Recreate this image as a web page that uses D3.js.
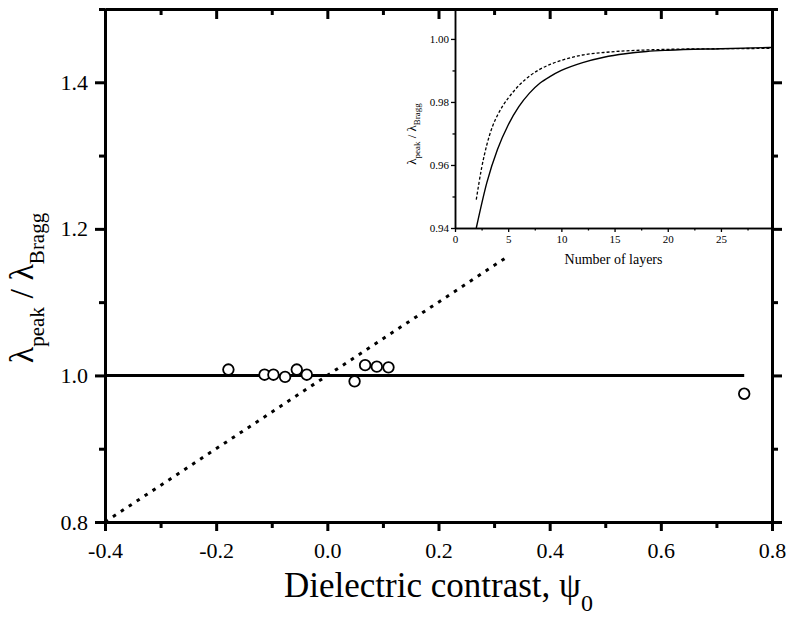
<!DOCTYPE html>
<html>
<head>
<meta charset="utf-8">
<script src="https://cdn.jsdelivr.net/npm/d3@7"></script>
<style>
  body { margin: 0; background: #fff; }
  text { font-family: "Liberation Serif", "Times New Roman", serif; fill: #000; }
</style>
</head>
<body>
<svg id="chart" width="786" height="622"></svg>
<script>
// main plot: measured points (open circles)
const psi = [-0.178, -0.113, -0.097, -0.076, -0.055, -0.037, 0.049, 0.068, 0.089, 0.110, 0.750];
const ratio = [1.008, 1.001, 1.001, 0.998, 1.008, 1.001, 0.992, 1.014, 1.012, 1.011, 0.975];
// horizontal line at 1 and the dotted line
const flatX = [-0.4, 0.75];
const flatY = [1.0, 1.0];
const dotX = [-0.4, 0.327];
const dotY = [0.8, 1.1635];
const xMajor = [-0.4, -0.2, 0.0, 0.2, 0.4, 0.6, 0.8];
const xMinor = [-0.3, -0.1, 0.1, 0.3, 0.5, 0.7];
const yMajor = [0.8, 1.0, 1.2, 1.4];
const yMinor = [0.9, 1.1, 1.3, 1.5];

// inset: ratio vs number of layers
const solidLayers = [2.0, 3, 4, 5, 6, 7, 8, 9, 10, 12, 14, 16, 18, 20, 25, 29.8];
const solidVals = [0.940, 0.9545, 0.9650, 0.9727, 0.9785, 0.9828, 0.9860, 0.9882, 0.9900, 0.9925, 0.9942, 0.9953, 0.9960, 0.9964, 0.9969, 0.9973];
const dashLayers = [2.0, 2.5, 3, 3.5, 4, 4.5, 5, 6, 7, 8, 9, 10, 12, 14, 16, 18, 20, 25, 29.8];
const dashVals = [0.949, 0.959, 0.9665, 0.9720, 0.9758, 0.9788, 0.9812, 0.9852, 0.9882, 0.9904, 0.9920, 0.9932, 0.9949, 0.9957, 0.9962, 0.9965, 0.9967, 0.9969, 0.9970];
const inXMajor = [0, 5, 10, 15, 20, 25];
const inXMinor = [2.5, 7.5, 12.5, 17.5, 22.5, 27.5];
const inYMajor = [0.94, 0.96, 0.98, 1.00];
const inYMinor = [0.95, 0.97, 0.99];

const svg = d3.select("#chart");
const margin = {top: 9, right: 14, bottom: 100, left: 105};
const W = 786, H = 622;

const x = d3.scaleLinear().domain([-0.4, 0.8]).range([margin.left, W - margin.right]);
const y = d3.scaleLinear().domain([0.8, 1.5]).range([H - margin.bottom, margin.top]);
const fmt = d => d.toFixed(1);

// --- main axes
function styleAxis(g, w) {
  g.select(".domain").attr("stroke-width", w);
  g.selectAll(".tick line").attr("stroke-width", w);
  g.selectAll(".tick text").style("font-family", "Liberation Serif").style("font-size", "22px");
}

const axBottom = svg.append("g").attr("transform", `translate(0,${y(0.8)})`)
  .call(d3.axisBottom(x).tickValues(xMajor).tickFormat(fmt).tickSize(9).tickPadding(11).tickSizeOuter(0));
styleAxis(axBottom, 3);
svg.append("g").attr("transform", `translate(0,${y(0.8)})`)
  .call(d3.axisBottom(x).tickValues(xMinor).tickFormat("").tickSize(6).tickSizeOuter(0))
  .call(g => styleAxis(g, 3));

const axTop = svg.append("g").attr("transform", `translate(0,${y(1.5)})`)
  .call(d3.axisTop(x).tickValues(xMajor).tickFormat("").tickSize(-10).tickSizeOuter(0));
styleAxis(axTop, 3);
svg.append("g").attr("transform", `translate(0,${y(1.5)})`)
  .call(d3.axisTop(x).tickValues(xMinor).tickFormat("").tickSize(-6).tickSizeOuter(0))
  .call(g => styleAxis(g, 3));

const axLeft = svg.append("g").attr("transform", `translate(${x(-0.4)},0)`)
  .call(d3.axisLeft(y).tickValues(yMajor).tickFormat(fmt).tickSize(10).tickPadding(7).tickSizeOuter(0));
styleAxis(axLeft, 3);
svg.append("g").attr("transform", `translate(${x(-0.4)},0)`)
  .call(d3.axisLeft(y).tickValues(yMinor).tickFormat("").tickSize(6).tickSizeOuter(0))
  .call(g => styleAxis(g, 3));

const axRight = svg.append("g").attr("transform", `translate(${x(0.8)},0)`)
  .call(d3.axisRight(y).tickValues(yMajor).tickFormat("").tickSize(10).tickSizeOuter(0));
styleAxis(axRight, 3);
svg.append("g").attr("transform", `translate(${x(0.8)},0)`)
  .call(d3.axisRight(y).tickValues(yMinor).tickFormat("").tickSize(6).tickSizeOuter(0))
  .call(g => styleAxis(g, 3));

// --- main lines
const line = d3.line().x(d => x(d[0])).y(d => y(d[1]));
svg.append("path")
  .attr("d", line(d3.zip(flatX, flatY)))
  .attr("fill", "none").attr("stroke", "#000").attr("stroke-width", 3);
svg.append("path")
  .attr("d", line(d3.zip(dotX, dotY)))
  .attr("fill", "none").attr("stroke", "#000").attr("stroke-width", 3)
  .attr("stroke-dasharray", "3.5,6");

// circles
svg.selectAll(".pt")
  .data(d3.zip(psi, ratio))
  .enter()
  .append("circle")
  .attr("class", "pt")
  .attr("cx", d => x(d[0]))
  .attr("cy", d => y(d[1]))
  .attr("r", 5.3)
  .attr("fill", "#fff")
  .attr("stroke", "#000")
  .attr("stroke-width", 1.8);

// axis titles
const xl = svg.append("text")
  .attr("x", (x(-0.4) + x(0.8)) / 2)
  .attr("y", 597)
  .attr("text-anchor", "middle")
  .style("font-size", "35px");
xl.append("tspan").text("Dielectric contrast, \u03c8");
xl.append("tspan").attr("dy", 14).style("font-size", "24px").text("0");

const yl = svg.append("text")
  .attr("transform", "translate(33,288) rotate(-90)")
  .attr("text-anchor", "middle")
  .style("font-size", "34px");
yl.append("tspan").text("\u03bb");
yl.append("tspan").attr("dy", 11).style("font-size", "21px").text("peak");
yl.append("tspan").attr("dy", -11).text(" / \u03bb");
yl.append("tspan").attr("dy", 11).style("font-size", "21px").text("Bragg");

// --- inset
const ix = d3.scaleLinear().domain([0, 29.8]).range([455, x(0.8)]);
const iy = d3.scaleLinear().domain([0.94, 1.0095]).range([228, y(1.5)]);

function styleInset(g) {
  g.select(".domain").attr("stroke-width", 1.5);
  g.selectAll(".tick line").attr("stroke-width", 1.3);
  g.selectAll(".tick text").style("font-family", "Liberation Serif").style("font-size", "11px");
}

svg.append("g").attr("transform", `translate(0,${iy(0.94)})`)
  .call(d3.axisBottom(ix).tickValues(inXMajor).tickFormat(d3.format("d")).tickSize(4).tickPadding(3).tickSizeOuter(0))
  .call(styleInset);
svg.append("g").attr("transform", `translate(0,${iy(0.94)})`)
  .call(d3.axisBottom(ix).tickValues(inXMinor).tickFormat("").tickSize(2.5).tickSizeOuter(0))
  .call(styleInset);
svg.append("g").attr("transform", `translate(${ix(0)},0)`)
  .call(d3.axisLeft(iy).tickValues(inYMajor).tickFormat(d3.format(".2f")).tickSize(4).tickPadding(2).tickSizeOuter(0))
  .call(styleInset);
svg.append("g").attr("transform", `translate(${ix(0)},0)`)
  .call(d3.axisLeft(iy).tickValues(inYMinor).tickFormat("").tickSize(2.5).tickSizeOuter(0))
  .call(styleInset);

const iline = d3.line().curve(d3.curveMonotoneX).x(d => ix(d[0])).y(d => iy(d[1]));
svg.append("path")
  .attr("d", iline(d3.zip(solidLayers, solidVals)))
  .attr("fill", "none").attr("stroke", "#000").attr("stroke-width", 1.4);
svg.append("path")
  .attr("d", iline(d3.zip(dashLayers, dashVals)))
  .attr("fill", "none").attr("stroke", "#000").attr("stroke-width", 1.3)
  .attr("stroke-dasharray", "3,2");

svg.append("text")
  .attr("x", (ix(0) + ix(29.8)) / 2)
  .attr("y", 264)
  .attr("text-anchor", "middle")
  .style("font-size", "14px")
  .text("Number of layers");

const iyl = svg.append("text")
  .attr("transform", "translate(416,134) rotate(-90)")
  .attr("text-anchor", "middle")
  .style("font-size", "13px");
iyl.append("tspan").text("\u03bb");
iyl.append("tspan").attr("dy", 4).style("font-size", "9px").text("peak");
iyl.append("tspan").attr("dy", -4).text(" / \u03bb");
iyl.append("tspan").attr("dy", 4).style("font-size", "9px").text("Bragg");
</script>
</body>
</html>
